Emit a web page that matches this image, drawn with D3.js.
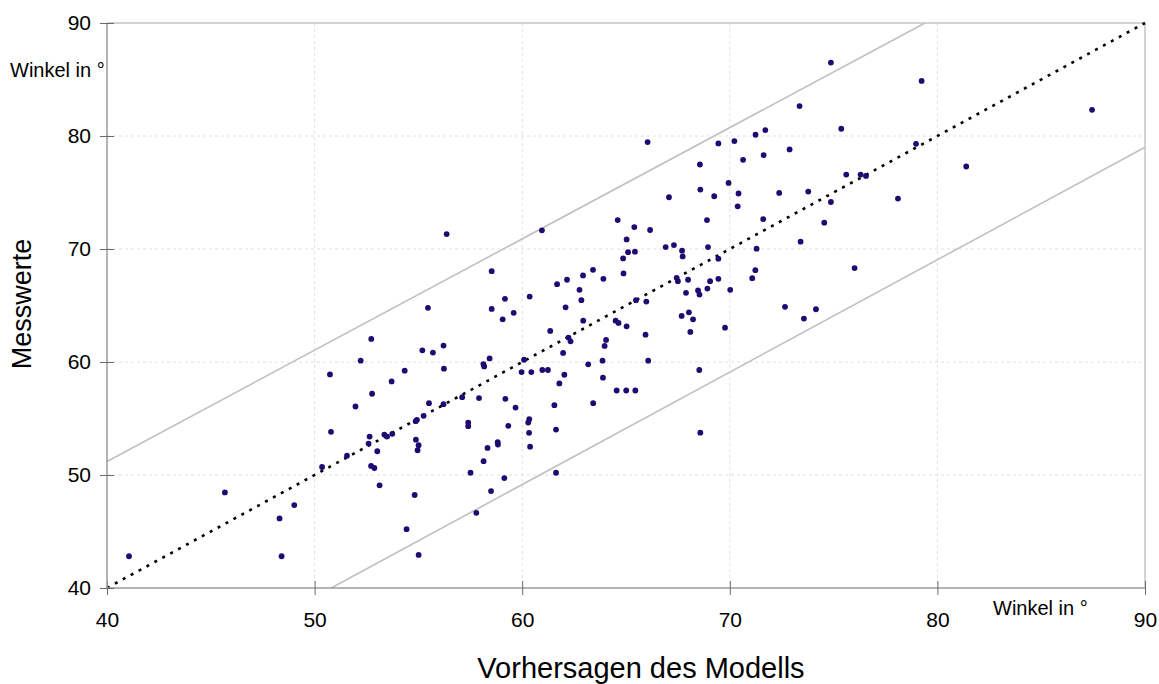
<!DOCTYPE html>
<html>
<head>
<meta charset="utf-8">
<script src="https://cdn.jsdelivr.net/npm/d3@7"></script>
<style>
  html, body { margin: 0; padding: 0; background: #fff; }
  svg { display: block; font-family: "Liberation Sans", Arial, sans-serif; }
</style>
</head>
<body>
<svg id="chart" width="1159" height="684"></svg>
<script>
// Model predictions (x) and measured values (y), angles in degrees
const predicted = [
  52.73, 52.22, 50.74, 52.77, 51.97, 50.79, 52.65, 52.60, 53.02, 51.56,
  50.36, 52.72, 52.88, 53.13, 45.68, 49.02, 48.31, 41.06, 48.41,
  56.36, 60.95, 58.53, 61.68, 59.17, 60.36, 55.46, 58.53, 59.59, 59.06,
  61.35, 55.19, 55.70, 56.21, 58.43, 58.13, 58.17, 60.09, 56.23, 54.34,
  59.97, 60.44, 60.97, 61.24, 53.71, 61.79, 57.11, 57.92, 59.19,
  55.51, 56.21, 59.68, 61.55, 55.25, 54.93, 54.87, 57.40, 57.40, 59.33,
  60.34, 60.29, 61.63, 60.33, 53.36, 53.49, 53.74, 54.88, 55.01, 54.96,
  58.82, 58.83, 58.33, 60.38, 58.14, 57.51, 59.14, 61.63, 54.82, 58.50,
  57.79, 54.43, 55.01,
  66.04, 69.45, 70.22, 68.56, 69.94, 68.58, 69.25, 67.07, 70.38, 70.42,
  64.60, 68.90, 65.40, 66.16, 65.03, 65.10, 65.43, 66.91, 67.31, 68.95,
  67.70, 67.73, 64.86, 69.45, 63.41, 62.93, 62.16, 63.91, 64.88, 67.44,
  67.50, 67.99, 69.05, 69.45, 62.76, 62.85, 67.89, 68.47, 68.54, 68.92,
  70.02, 62.09, 65.48, 65.98, 62.94, 64.50, 64.64, 65.03, 67.68, 68.03,
  68.23, 68.10, 69.77, 65.94, 62.23, 62.33, 64.04, 63.97,
  61.97, 62.03, 63.18, 63.87, 66.07, 63.89, 64.55, 65.01, 65.45, 63.42,
  68.53, 68.58,
  74.87, 79.24, 73.36, 87.45, 75.37, 71.24, 71.71, 72.88, 70.64, 71.63,
  78.97, 81.39, 75.61, 76.30, 76.56, 72.38, 73.78, 74.87, 78.10, 71.61,
  74.55, 73.41, 71.29, 76.01, 71.23, 71.08,
  72.66, 73.57, 74.15
];
const measured = [
  62.04, 60.12, 58.90, 57.19, 56.06, 53.82, 53.40, 52.78, 52.10, 51.71,
  50.71, 50.80, 50.62, 49.09, 48.46, 47.34, 46.16, 42.81, 42.81,
  71.32, 71.65, 68.04, 66.89, 65.59, 65.79, 64.79, 64.70, 64.35, 63.78,
  62.75, 61.03, 60.83, 61.45, 60.32, 59.82, 59.61, 60.20, 59.41, 59.23,
  59.11, 59.11, 59.29, 59.29, 58.28, 58.10, 56.89, 56.81, 56.74,
  56.36, 56.27, 55.97, 56.18, 55.24, 54.88, 54.76, 54.64, 54.32, 54.35,
  54.94, 54.64, 54.02, 53.73, 53.58, 53.40, 53.64, 53.13, 52.64, 52.19,
  52.90, 52.69, 52.40, 52.51, 51.22, 50.20, 49.73, 50.20, 48.23, 48.58,
  46.65, 45.21, 42.93,
  79.46, 79.34, 79.55, 77.48, 75.85, 75.26, 74.67, 74.58, 73.78, 74.91,
  72.56, 72.56, 71.94, 71.68, 70.85, 69.72, 69.76, 70.17, 70.35, 70.17,
  69.85, 69.34, 69.17, 69.14, 68.16, 67.66, 67.28, 67.36, 67.84, 67.45,
  67.15, 67.28, 67.15, 67.36, 66.39, 65.47, 66.12, 66.33, 65.97, 66.50,
  66.39, 64.84, 65.47, 65.35, 63.66, 63.66, 63.46, 63.16, 64.08, 64.40,
  63.78, 62.66, 63.04, 62.42, 62.16, 61.83, 61.95, 61.42,
  60.80, 58.87, 59.79, 60.12, 60.12, 58.61, 57.48, 57.48, 57.48, 56.36,
  59.29, 53.75,
  86.50, 84.87, 82.65, 82.32, 80.64, 80.11, 80.52, 78.81, 77.89, 78.31,
  79.31, 77.30, 76.59, 76.59, 76.47, 74.96, 75.08, 74.16, 74.46, 72.65,
  72.33, 70.65, 70.03, 68.31, 68.13, 67.42,
  64.88, 63.84, 64.67
];

// Axis ticks
const xTicks = [40, 50, 60, 70, 80, 90];
const yTicks = [40, 50, 60, 70, 80, 90];

// Reference lines: identity and the tolerance band around it
const identityLine = [[40, 40], [90, 90]];
const upperBand = [[40, 51.2], [79.4, 90]];
const lowerBand = [[50.8, 40], [90, 79]];

const xTitle = "Vorhersagen des Modells";
const yTitle = "Messwerte";
const unitLabel = "Winkel in °";

const svg = d3.select("#chart");
const plotLeft = 107, plotRight = 1145, plotTop = 23, plotBottom = 588;

const x = d3.scaleLinear().domain([40, 90]).range([plotLeft, plotRight]);
const y = d3.scaleLinear().domain([40, 90]).range([plotBottom, plotTop]);

// Grid
const grid = svg.append("g");
grid.selectAll("line.gx").data(xTicks.slice(1, -1)).join("line")
  .attr("x1", d => x(d)).attr("x2", d => x(d))
  .attr("y1", plotTop).attr("y2", plotBottom)
  .attr("stroke", "#e0e0e0").attr("stroke-dasharray", "3,3");
grid.selectAll("line.gy").data(yTicks.slice(1, -1)).join("line")
  .attr("x1", plotLeft).attr("x2", plotRight)
  .attr("y1", d => y(d)).attr("y2", d => y(d))
  .attr("stroke", "#e0e0e0").attr("stroke-dasharray", "3,3");

// Frame (top and right)
svg.append("line").attr("x1", plotLeft).attr("x2", plotRight).attr("y1", plotTop).attr("y2", plotTop)
  .attr("stroke", "#c4c4c4").attr("stroke-width", 1.5);
svg.append("line").attr("x1", plotRight).attr("x2", plotRight).attr("y1", plotTop).attr("y2", plotBottom)
  .attr("stroke", "#c4c4c4").attr("stroke-width", 1.5);

// Band lines
const line = d3.line().x(d => x(d[0])).y(d => y(d[1]));
[upperBand, lowerBand].forEach(b => {
  svg.append("path").attr("d", line(b)).attr("fill", "none")
    .attr("stroke", "#c0c0c0").attr("stroke-width", 1.6);
});

// Identity line (dotted)
svg.append("path").attr("d", line(identityLine)).attr("fill", "none")
  .attr("stroke", "#000").attr("stroke-width", 2.6).attr("stroke-dasharray", "3,6");

// Axes with ticks crossing the axis line
const xAxis = svg.append("g").attr("transform", `translate(0,${plotBottom})`)
  .call(d3.axisBottom(x).tickValues(xTicks).tickSize(7).tickFormat(d3.format("d")));
xAxis.select(".domain").attr("stroke", "#9a9a9a").attr("stroke-width", 1.5).attr("d", `M${plotLeft},0H${plotRight}`);
xAxis.selectAll(".tick line").attr("y1", -7).attr("y2", 7).attr("stroke", "#6a6a6a");
xAxis.selectAll(".tick text").attr("y", 24).attr("font-size", 21).attr("fill", "#000")
  .attr("font-family", "Liberation Sans, Arial, sans-serif");

const yAxis = svg.append("g").attr("transform", `translate(${plotLeft},0)`)
  .call(d3.axisLeft(y).tickValues(yTicks).tickSize(7).tickFormat(d3.format("d")));
yAxis.select(".domain").attr("stroke", "#9a9a9a").attr("stroke-width", 1.5).attr("d", `M0,${plotBottom}V${plotTop}`);
yAxis.selectAll(".tick line").attr("x1", -7).attr("x2", 7).attr("stroke", "#6a6a6a");
yAxis.selectAll(".tick text").attr("x", -16).attr("font-size", 21).attr("fill", "#000")
  .attr("font-family", "Liberation Sans, Arial, sans-serif");

// Points
const pts = predicted.map((p, i) => [p, measured[i]]);
svg.append("g").selectAll("circle").data(pts).join("circle")
  .attr("cx", d => x(d[0])).attr("cy", d => y(d[1])).attr("r", 2.9)
  .attr("fill", "#200a72");

// Titles and unit labels
svg.append("text").attr("x", 641).attr("y", 678).attr("text-anchor", "middle")
  .attr("font-size", 29).text(xTitle);
svg.append("text").attr("transform", "translate(31,304) rotate(-90)")
  .attr("text-anchor", "middle").attr("font-size", 27).text(yTitle);
svg.append("text").attr("x", 10).attr("y", 77).attr("font-size", 20).text(unitLabel);
svg.append("text").attr("x", 993).attr("y", 615).attr("font-size", 20).text(unitLabel);
</script>
</body>
</html>
